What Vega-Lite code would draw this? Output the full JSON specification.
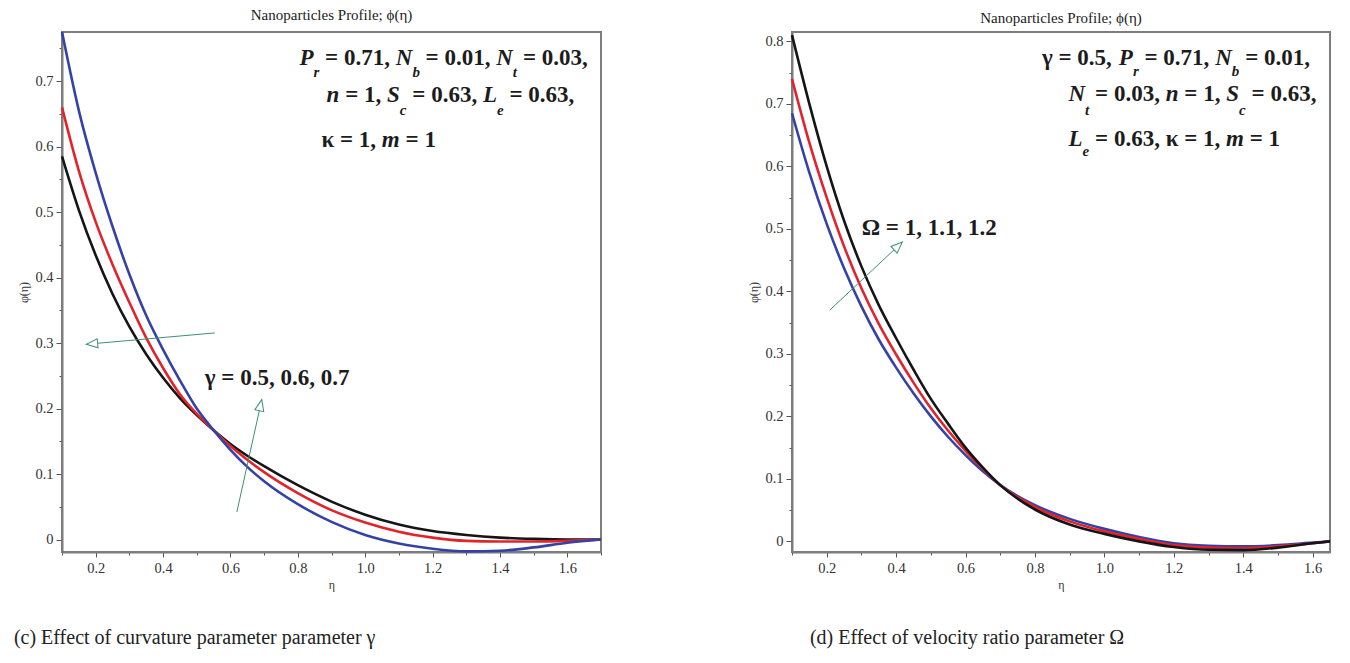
{
  "$schema": "https://vega.github.io/schema/vega-lite/v6.json",
  "background": "white",
  "padding": {"left": 13, "top": 6, "right": 5, "bottom": 5},
  "spacing": 138,
  "resolve": {"scale": {"color": "independent"}},
  "config": {
    "font": "Liberation Serif",
    "view": {"stroke": "#7d7d7d", "strokeWidth": 2},
    "axis": {
      "labelFont": "Liberation Serif", "labelFontSize": 14.5, "labelColor": "#333333",
      "titleFont": "Liberation Serif", "titleFontSize": 12, "titleFontWeight": "normal", "titleColor": "#333333",
      "domainColor": "#7d7d7d", "domainWidth": 2, "tickColor": "#555555", "tickWidth": 1, "grid": false
    },
    "axisX": {"titlePadding": 5, "labelPadding": 4},
    "axisY": {"titlePadding": 4, "labelPadding": 3},
    "title": {"font": "Liberation Serif", "fontWeight": "normal", "color": "#222222"},
    "text": {"font": "Liberation Serif"}
  },
  "datasets": {
    "gammaCurves": [
      {"gamma": "0.5", "eta": 0.1, "phi": 0.585}, {"gamma": "0.5", "eta": 0.15, "phi": 0.503}, {"gamma": "0.5", "eta": 0.2, "phi": 0.434},
      {"gamma": "0.5", "eta": 0.25, "phi": 0.375}, {"gamma": "0.5", "eta": 0.3, "phi": 0.325}, {"gamma": "0.5", "eta": 0.35, "phi": 0.283},
      {"gamma": "0.5", "eta": 0.4, "phi": 0.247}, {"gamma": "0.5", "eta": 0.45, "phi": 0.216}, {"gamma": "0.5", "eta": 0.5, "phi": 0.19},
      {"gamma": "0.5", "eta": 0.55, "phi": 0.167}, {"gamma": "0.5", "eta": 0.6, "phi": 0.146}, {"gamma": "0.5", "eta": 0.65, "phi": 0.128},
      {"gamma": "0.5", "eta": 0.7, "phi": 0.112}, {"gamma": "0.5", "eta": 0.8, "phi": 0.083}, {"gamma": "0.5", "eta": 0.9, "phi": 0.058},
      {"gamma": "0.5", "eta": 1.0, "phi": 0.038}, {"gamma": "0.5", "eta": 1.1, "phi": 0.023}, {"gamma": "0.5", "eta": 1.2, "phi": 0.013},
      {"gamma": "0.5", "eta": 1.3, "phi": 0.007}, {"gamma": "0.5", "eta": 1.4, "phi": 0.003}, {"gamma": "0.5", "eta": 1.5, "phi": 0.001},
      {"gamma": "0.5", "eta": 1.6, "phi": 0.0}, {"gamma": "0.5", "eta": 1.7, "phi": 0.0},
      {"gamma": "0.6", "eta": 0.1, "phi": 0.66}, {"gamma": "0.6", "eta": 0.15, "phi": 0.563}, {"gamma": "0.6", "eta": 0.2, "phi": 0.485},
      {"gamma": "0.6", "eta": 0.25, "phi": 0.42}, {"gamma": "0.6", "eta": 0.3, "phi": 0.362}, {"gamma": "0.6", "eta": 0.35, "phi": 0.308},
      {"gamma": "0.6", "eta": 0.4, "phi": 0.262}, {"gamma": "0.6", "eta": 0.45, "phi": 0.222}, {"gamma": "0.6", "eta": 0.5, "phi": 0.192},
      {"gamma": "0.6", "eta": 0.55, "phi": 0.167}, {"gamma": "0.6", "eta": 0.6, "phi": 0.143}, {"gamma": "0.6", "eta": 0.65, "phi": 0.122},
      {"gamma": "0.6", "eta": 0.7, "phi": 0.103}, {"gamma": "0.6", "eta": 0.8, "phi": 0.071}, {"gamma": "0.6", "eta": 0.9, "phi": 0.045},
      {"gamma": "0.6", "eta": 1.0, "phi": 0.026}, {"gamma": "0.6", "eta": 1.1, "phi": 0.012}, {"gamma": "0.6", "eta": 1.2, "phi": 0.003},
      {"gamma": "0.6", "eta": 1.3, "phi": -0.002}, {"gamma": "0.6", "eta": 1.4, "phi": -0.003}, {"gamma": "0.6", "eta": 1.5, "phi": -0.003},
      {"gamma": "0.6", "eta": 1.6, "phi": -0.002}, {"gamma": "0.6", "eta": 1.7, "phi": 0.0},
      {"gamma": "0.7", "eta": 0.1, "phi": 0.775}, {"gamma": "0.7", "eta": 0.15, "phi": 0.655}, {"gamma": "0.7", "eta": 0.2, "phi": 0.56},
      {"gamma": "0.7", "eta": 0.25, "phi": 0.478}, {"gamma": "0.7", "eta": 0.3, "phi": 0.405}, {"gamma": "0.7", "eta": 0.35, "phi": 0.342},
      {"gamma": "0.7", "eta": 0.4, "phi": 0.29}, {"gamma": "0.7", "eta": 0.45, "phi": 0.243}, {"gamma": "0.7", "eta": 0.5, "phi": 0.2},
      {"gamma": "0.7", "eta": 0.55, "phi": 0.167}, {"gamma": "0.7", "eta": 0.6, "phi": 0.137}, {"gamma": "0.7", "eta": 0.65, "phi": 0.111},
      {"gamma": "0.7", "eta": 0.7, "phi": 0.089}, {"gamma": "0.7", "eta": 0.8, "phi": 0.054}, {"gamma": "0.7", "eta": 0.9, "phi": 0.027},
      {"gamma": "0.7", "eta": 1.0, "phi": 0.007}, {"gamma": "0.7", "eta": 1.1, "phi": -0.006}, {"gamma": "0.7", "eta": 1.2, "phi": -0.014},
      {"gamma": "0.7", "eta": 1.3, "phi": -0.018}, {"gamma": "0.7", "eta": 1.4, "phi": -0.017}, {"gamma": "0.7", "eta": 1.5, "phi": -0.012},
      {"gamma": "0.7", "eta": 1.6, "phi": -0.005}, {"gamma": "0.7", "eta": 1.7, "phi": 0.0}
    ],
    "omegaCurves": [
      {"omega": "1", "eta": 0.1, "phi": 0.685}, {"omega": "1", "eta": 0.15, "phi": 0.59}, {"omega": "1", "eta": 0.2, "phi": 0.508},
      {"omega": "1", "eta": 0.25, "phi": 0.437}, {"omega": "1", "eta": 0.3, "phi": 0.376}, {"omega": "1", "eta": 0.35, "phi": 0.323},
      {"omega": "1", "eta": 0.4, "phi": 0.278}, {"omega": "1", "eta": 0.45, "phi": 0.237}, {"omega": "1", "eta": 0.5, "phi": 0.2},
      {"omega": "1", "eta": 0.55, "phi": 0.167}, {"omega": "1", "eta": 0.6, "phi": 0.138}, {"omega": "1", "eta": 0.65, "phi": 0.112},
      {"omega": "1", "eta": 0.7, "phi": 0.09}, {"omega": "1", "eta": 0.8, "phi": 0.058}, {"omega": "1", "eta": 0.9, "phi": 0.036},
      {"omega": "1", "eta": 1.0, "phi": 0.02}, {"omega": "1", "eta": 1.1, "phi": 0.007}, {"omega": "1", "eta": 1.2, "phi": -0.003},
      {"omega": "1", "eta": 1.3, "phi": -0.007}, {"omega": "1", "eta": 1.4, "phi": -0.008}, {"omega": "1", "eta": 1.5, "phi": -0.006},
      {"omega": "1", "eta": 1.6, "phi": -0.002}, {"omega": "1", "eta": 1.65, "phi": 0.0},
      {"omega": "1.1", "eta": 0.1, "phi": 0.74}, {"omega": "1.1", "eta": 0.15, "phi": 0.638}, {"omega": "1.1", "eta": 0.2, "phi": 0.55},
      {"omega": "1.1", "eta": 0.25, "phi": 0.472}, {"omega": "1.1", "eta": 0.3, "phi": 0.405}, {"omega": "1.1", "eta": 0.35, "phi": 0.348},
      {"omega": "1.1", "eta": 0.4, "phi": 0.299}, {"omega": "1.1", "eta": 0.45, "phi": 0.254}, {"omega": "1.1", "eta": 0.5, "phi": 0.213},
      {"omega": "1.1", "eta": 0.55, "phi": 0.177}, {"omega": "1.1", "eta": 0.6, "phi": 0.145}, {"omega": "1.1", "eta": 0.65, "phi": 0.116},
      {"omega": "1.1", "eta": 0.7, "phi": 0.09}, {"omega": "1.1", "eta": 0.8, "phi": 0.055}, {"omega": "1.1", "eta": 0.9, "phi": 0.032},
      {"omega": "1.1", "eta": 1.0, "phi": 0.016}, {"omega": "1.1", "eta": 1.1, "phi": 0.004}, {"omega": "1.1", "eta": 1.2, "phi": -0.006},
      {"omega": "1.1", "eta": 1.3, "phi": -0.01}, {"omega": "1.1", "eta": 1.4, "phi": -0.011}, {"omega": "1.1", "eta": 1.5, "phi": -0.008},
      {"omega": "1.1", "eta": 1.6, "phi": -0.003}, {"omega": "1.1", "eta": 1.65, "phi": 0.0},
      {"omega": "1.2", "eta": 0.1, "phi": 0.81}, {"omega": "1.2", "eta": 0.15, "phi": 0.7}, {"omega": "1.2", "eta": 0.2, "phi": 0.6},
      {"omega": "1.2", "eta": 0.25, "phi": 0.513}, {"omega": "1.2", "eta": 0.3, "phi": 0.44}, {"omega": "1.2", "eta": 0.35, "phi": 0.378},
      {"omega": "1.2", "eta": 0.4, "phi": 0.325}, {"omega": "1.2", "eta": 0.45, "phi": 0.275}, {"omega": "1.2", "eta": 0.5, "phi": 0.228},
      {"omega": "1.2", "eta": 0.55, "phi": 0.188}, {"omega": "1.2", "eta": 0.6, "phi": 0.15}, {"omega": "1.2", "eta": 0.65, "phi": 0.118},
      {"omega": "1.2", "eta": 0.7, "phi": 0.09}, {"omega": "1.2", "eta": 0.8, "phi": 0.051}, {"omega": "1.2", "eta": 0.9, "phi": 0.027},
      {"omega": "1.2", "eta": 1.0, "phi": 0.012}, {"omega": "1.2", "eta": 1.1, "phi": 0.0}, {"omega": "1.2", "eta": 1.2, "phi": -0.009},
      {"omega": "1.2", "eta": 1.3, "phi": -0.0135}, {"omega": "1.2", "eta": 1.4, "phi": -0.014}, {"omega": "1.2", "eta": 1.5, "phi": -0.01},
      {"omega": "1.2", "eta": 1.6, "phi": -0.003}, {"omega": "1.2", "eta": 1.65, "phi": 0.0}
    ],
    "gammaNotes": [
      {"kind": "symbol", "eta": 0.805, "phi": 0.724, "text": "P"},
      {"kind": "subscript", "eta": 0.8466, "phi": 0.707, "text": "r"},
      {"kind": "plain", "eta": 0.881, "phi": 0.724, "text": "= 0.71,"},
      {"kind": "symbol", "eta": 1.0908, "phi": 0.724, "text": "N"},
      {"kind": "subscript", "eta": 1.1401, "phi": 0.707, "text": "b"},
      {"kind": "plain", "eta": 1.1793, "phi": 0.724, "text": "= 0.01,"},
      {"kind": "symbol", "eta": 1.3891, "phi": 0.724, "text": "N"},
      {"kind": "subscript", "eta": 1.4384, "phi": 0.707, "text": "t"},
      {"kind": "plain", "eta": 1.4681, "phi": 0.724, "text": "= 0.03,"},
      {"kind": "symbol", "eta": 0.8852, "phi": 0.668, "text": "n"},
      {"kind": "plain", "eta": 0.9405, "phi": 0.668, "text": "= 1,"},
      {"kind": "symbol", "eta": 1.0646, "phi": 0.668, "text": "S"},
      {"kind": "subscript", "eta": 1.1027, "phi": 0.648, "text": "c"},
      {"kind": "plain", "eta": 1.1398, "phi": 0.668, "text": "= 0.63,"},
      {"kind": "symbol", "eta": 1.3496, "phi": 0.668, "text": "L"},
      {"kind": "subscript", "eta": 1.3912, "phi": 0.648, "text": "e"},
      {"kind": "plain", "eta": 1.4283, "phi": 0.668, "text": "= 0.63,"},
      {"kind": "plain", "eta": 0.8703, "phi": 0.599, "text": "κ = 1,"},
      {"kind": "symbol", "eta": 1.0495, "phi": 0.599, "text": "m"},
      {"kind": "plain", "eta": 1.1199, "phi": 0.599, "text": "= 1"},
      {"kind": "plain", "eta": 0.524, "phi": 0.2356, "text": "γ = 0.5, 0.6, 0.7"}
    ],
    "omegaNotes": [
      {"kind": "plain", "eta": 0.8202, "phi": 0.762, "text": "γ = 0.5,"},
      {"kind": "symbol", "eta": 1.0417, "phi": 0.762, "text": "P"},
      {"kind": "subscript", "eta": 1.0821, "phi": 0.745, "text": "r"},
      {"kind": "plain", "eta": 1.1156, "phi": 0.762, "text": "= 0.71,"},
      {"kind": "symbol", "eta": 1.3192, "phi": 0.762, "text": "N"},
      {"kind": "subscript", "eta": 1.3671, "phi": 0.745, "text": "b"},
      {"kind": "plain", "eta": 1.4055, "phi": 0.762, "text": "= 0.01,"},
      {"kind": "symbol", "eta": 0.8967, "phi": 0.705, "text": "N"},
      {"kind": "subscript", "eta": 0.9445, "phi": 0.683, "text": "t"},
      {"kind": "plain", "eta": 0.9731, "phi": 0.705, "text": "= 0.03,"},
      {"kind": "symbol", "eta": 1.1767, "phi": 0.705, "text": "n"},
      {"kind": "plain", "eta": 1.2304, "phi": 0.705, "text": "= 1,"},
      {"kind": "symbol", "eta": 1.3509, "phi": 0.705, "text": "S"},
      {"kind": "subscript", "eta": 1.3879, "phi": 0.683, "text": "c"},
      {"kind": "plain", "eta": 1.4239, "phi": 0.705, "text": "= 0.63,"},
      {"kind": "symbol", "eta": 0.8967, "phi": 0.633, "text": "L"},
      {"kind": "subscript", "eta": 0.937, "phi": 0.617, "text": "e"},
      {"kind": "plain", "eta": 0.9731, "phi": 0.633, "text": "= 0.63,"},
      {"kind": "plain", "eta": 1.1767, "phi": 0.633, "text": "κ = 1,"},
      {"kind": "symbol", "eta": 1.3506, "phi": 0.633, "text": "m"},
      {"kind": "plain", "eta": 1.4187, "phi": 0.633, "text": "= 1"},
      {"kind": "plain", "eta": 0.3008, "phi": 0.4896, "text": "Ω = 1, 1.1, 1.2"}
    ],
    "gammaArrows": [
      {"arrow": "up", "end": "tail", "eta": 0.619, "phi": 0.042},
      {"arrow": "up", "end": "tip", "eta": 0.693, "phi": 0.2137},
      {"arrow": "left", "end": "tail", "eta": 0.5537, "phi": 0.3155},
      {"arrow": "left", "end": "tip", "eta": 0.172, "phi": 0.2982}
    ],
    "omegaArrows": [
      {"arrow": "diag", "end": "tail", "eta": 0.2088, "phi": 0.37},
      {"arrow": "diag", "end": "tip", "eta": 0.418, "phi": 0.479}
    ]
  },
  "hconcat": [
    {
      "title": {"text": "(c) Effect of curvature parameter parameter γ", "orient": "bottom", "anchor": "start", "fontSize": 20, "offset": 36, "dx": -3},
      "vconcat": [
        {
          "width": 539,
          "height": 520,
          "title": {"text": "Nanoparticles Profile; ϕ(η)", "fontSize": 15, "offset": 4},
          "encoding": {
            "x": {
              "field": "eta", "type": "quantitative", "title": "η",
              "scale": {"domain": [0.1, 1.7], "nice": false, "zero": false},
              "axis": {
                "labelFont": "Liberation Serif", "labelFontSize": 14.5, "titleFont": "Liberation Serif",
                "values": [0.1, 0.2, 0.3, 0.4, 0.5, 0.6, 0.7, 0.8, 0.9, 1.0, 1.1, 1.2, 1.3, 1.4, 1.5, 1.6, 1.7],
                "labelExpr": "round(datum.value * 10) % 2 == 0 ? format(datum.value, '.1f') : ''",
                "tickSize": {"condition": {"test": "round(datum.value * 10) % 2 == 0", "value": 5}, "value": 3}
              }
            },
            "y": {
              "field": "phi", "type": "quantitative", "title": "φ(η)",
              "scale": {"domain": [-0.019, 0.775], "nice": false, "zero": false},
              "axis": {
                "labelFont": "Liberation Serif", "labelFontSize": 14.5, "titleFont": "Liberation Serif",
                "values": [0, 0.05, 0.1, 0.15, 0.2, 0.25, 0.3, 0.35, 0.4, 0.45, 0.5, 0.55, 0.6, 0.65, 0.7, 0.75],
                "labelExpr": "round(datum.value * 100) % 10 == 0 ? (datum.value == 0 ? '0' : format(datum.value, '.1f')) : ''",
                "tickSize": {"condition": {"test": "round(datum.value * 100) % 10 == 0", "value": 6}, "value": 3}
              }
            }
          },
          "layer": [
            {
              "data": {"name": "gammaCurves"},
              "mark": {"type": "line", "interpolate": "monotone", "strokeWidth": 2.6},
              "encoding": {
                "color": {"field": "gamma", "type": "nominal", "legend": null,
                  "scale": {"domain": ["0.5", "0.6", "0.7"], "range": ["#151515", "#e3232b", "#3442a8"]}}
              }
            },
            {
              "data": {"name": "gammaArrows"},
              "mark": {"type": "line", "color": "#3f8f76", "strokeWidth": 1},
              "encoding": {"detail": {"field": "arrow"}}
            },
            {
              "data": {"name": "gammaArrows"},
              "transform": [{"filter": "datum.arrow == 'up' && datum.end == 'tip'"}],
              "mark": {"type": "point", "shape": "M0,0L-0.8,2L0.8,2Z", "size": 130, "filled": true, "fill": "white", "stroke": "#3f8f76", "strokeWidth": 1, "opacity": 1, "angle": 12.5}
            },
            {
              "data": {"name": "gammaArrows"},
              "transform": [{"filter": "datum.arrow == 'left' && datum.end == 'tip'"}],
              "mark": {"type": "point", "shape": "M0,0L-0.8,2L0.8,2Z", "size": 130, "filled": true, "fill": "white", "stroke": "#3f8f76", "strokeWidth": 1, "opacity": 1, "angle": 265}
            },
            {
              "data": {"name": "gammaNotes"},
              "transform": [{"filter": "datum.kind == 'plain'"}],
              "mark": {"type": "text", "align": "left", "baseline": "alphabetic", "fontSize": 23, "fontWeight": "bold", "color": "#1c1c1c"},
              "encoding": {"text": {"field": "text"}}
            },
            {
              "data": {"name": "gammaNotes"},
              "transform": [{"filter": "datum.kind == 'symbol'"}],
              "mark": {"type": "text", "align": "left", "baseline": "alphabetic", "fontSize": 23, "fontWeight": "bold", "fontStyle": "italic", "color": "#1c1c1c"},
              "encoding": {"text": {"field": "text"}}
            },
            {
              "data": {"name": "gammaNotes"},
              "transform": [{"filter": "datum.kind == 'subscript'"}],
              "mark": {"type": "text", "align": "left", "baseline": "alphabetic", "fontSize": 15, "fontWeight": "bold", "fontStyle": "italic", "color": "#1c1c1c"},
              "encoding": {"text": {"field": "text"}}
            }
          ]
        }
      ]
    },
    {
      "title": {"text": "(d) Effect of velocity ratio parameter Ω", "orient": "bottom", "anchor": "start", "fontSize": 20, "offset": 36, "dx": 63},
      "vconcat": [
        {
          "width": 538,
          "height": 520,
          "title": {"text": "Nanoparticles Profile; ϕ(η)", "fontSize": 15, "offset": 4},
          "encoding": {
            "x": {
              "field": "eta", "type": "quantitative", "title": "η",
              "scale": {"domain": [0.1, 1.65], "nice": false, "zero": false},
              "axis": {
                "labelFont": "Liberation Serif", "labelFontSize": 14.5, "titleFont": "Liberation Serif",
                "values": [0.1, 0.2, 0.3, 0.4, 0.5, 0.6, 0.7, 0.8, 0.9, 1.0, 1.1, 1.2, 1.3, 1.4, 1.5, 1.6],
                "labelExpr": "round(datum.value * 10) % 2 == 0 ? format(datum.value, '.1f') : ''",
                "tickSize": {"condition": {"test": "round(datum.value * 10) % 2 == 0", "value": 5}, "value": 3}
              }
            },
            "y": {
              "field": "phi", "type": "quantitative", "title": "φ(η)",
              "scale": {"domain": [-0.017, 0.815], "nice": false, "zero": false},
              "axis": {
                "labelFont": "Liberation Serif", "labelFontSize": 14.5, "titleFont": "Liberation Serif",
                "values": [0, 0.05, 0.1, 0.15, 0.2, 0.25, 0.3, 0.35, 0.4, 0.45, 0.5, 0.55, 0.6, 0.65, 0.7, 0.75, 0.8],
                "labelExpr": "round(datum.value * 100) % 10 == 0 ? (datum.value == 0 ? '0' : format(datum.value, '.1f')) : ''",
                "tickSize": {"condition": {"test": "round(datum.value * 100) % 10 == 0", "value": 6}, "value": 3}
              }
            }
          },
          "layer": [
            {
              "data": {"name": "omegaCurves"},
              "mark": {"type": "line", "interpolate": "monotone", "strokeWidth": 2.6},
              "encoding": {
                "color": {"field": "omega", "type": "nominal", "legend": null,
                  "scale": {"domain": ["1", "1.1", "1.2"], "range": ["#3442a8", "#e3232b", "#151515"]}}
              }
            },
            {
              "data": {"name": "omegaArrows"},
              "mark": {"type": "line", "color": "#3f8f76", "strokeWidth": 1},
              "encoding": {"detail": {"field": "arrow"}}
            },
            {
              "data": {"name": "omegaArrows"},
              "transform": [{"filter": "datum.end == 'tip'"}],
              "mark": {"type": "point", "shape": "M0,0L-0.8,2L0.8,2Z", "size": 130, "filled": true, "fill": "white", "stroke": "#3f8f76", "strokeWidth": 1, "opacity": 1, "angle": 47}
            },
            {
              "data": {"name": "omegaNotes"},
              "transform": [{"filter": "datum.kind == 'plain'"}],
              "mark": {"type": "text", "align": "left", "baseline": "alphabetic", "fontSize": 23, "fontWeight": "bold", "color": "#1c1c1c"},
              "encoding": {"text": {"field": "text"}}
            },
            {
              "data": {"name": "omegaNotes"},
              "transform": [{"filter": "datum.kind == 'symbol'"}],
              "mark": {"type": "text", "align": "left", "baseline": "alphabetic", "fontSize": 23, "fontWeight": "bold", "fontStyle": "italic", "color": "#1c1c1c"},
              "encoding": {"text": {"field": "text"}}
            },
            {
              "data": {"name": "omegaNotes"},
              "transform": [{"filter": "datum.kind == 'subscript'"}],
              "mark": {"type": "text", "align": "left", "baseline": "alphabetic", "fontSize": 15, "fontWeight": "bold", "fontStyle": "italic", "color": "#1c1c1c"},
              "encoding": {"text": {"field": "text"}}
            }
          ]
        }
      ]
    }
  ]
}
